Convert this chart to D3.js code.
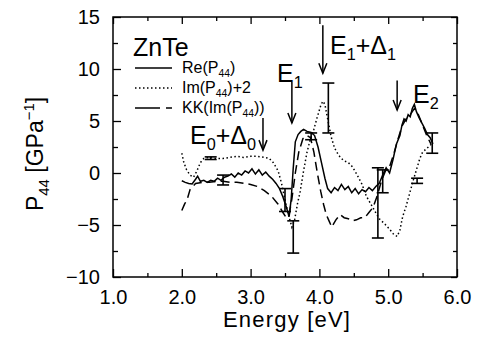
<!DOCTYPE html>
<html>
<head>
<meta charset="utf-8">
<script src="https://cdn.jsdelivr.net/npm/d3@7"></script>
<style>
  body { margin: 0; background: #fff; }
  svg { display: block; font-family: "Liberation Sans", Arial, sans-serif; }
  .axis text { font-size: 20px; fill: #000; }
  .axis line { stroke: #000; stroke-width: 1.3; }
  .axis path { display: none; }
</style>
</head>
<body>
<div id="chart"></div>
<script>
// Re(P44)
var reX = [2.00, 2.05, 2.10, 2.15, 2.20, 2.23, 2.27, 2.32, 2.37, 2.42, 2.47, 2.52, 2.57, 2.62, 2.67, 2.72, 2.77, 2.82, 2.87, 2.92, 2.97, 3.02, 3.07, 3.12, 3.17, 3.22, 3.27, 3.32, 3.37, 3.42, 3.47, 3.52, 3.56, 3.59, 3.62, 3.65, 3.69, 3.73, 3.77, 3.82, 3.88, 3.93, 3.98, 4.03, 4.08, 4.12, 4.17, 4.22, 4.27, 4.32, 4.37, 4.42, 4.47, 4.52, 4.57, 4.62, 4.67, 4.72, 4.77, 4.82, 4.87, 4.92, 4.97, 5.02, 5.07, 5.12, 5.17, 5.20, 5.23, 5.26, 5.29, 5.32, 5.35, 5.38, 5.41, 5.45, 5.49, 5.53, 5.57, 5.61, 5.65];
var reY = [-0.75, -0.9, -1.0, -1.05, -0.6, -0.3, -0.8, -0.7, -0.9, -0.7, -0.8, -0.5, -0.7, -0.4, -0.3, -0.1, -0.4, 0.0, -0.2, 0.2, 0.0, 0.4, -0.1, 0.3, -0.2, 0.1, -0.3, -0.6, -1.0, -1.5, -2.3, -3.3, -4.2, -2.5, 0.5, 3.0, 3.7, 4.0, 4.2, 4.0, 3.9, 3.6, 2.5, 1.0, -0.5, -1.5, -1.9, -1.4, -1.7, -1.1, -1.6, -1.3, -1.9, -1.5, -2.0, -1.6, -1.8, -1.4, -1.7, -1.3, -1.0, -0.2, 0.5, 0.0, 1.3, 2.8, 3.6, 4.6, 5.2, 5.0, 5.6, 5.4, 6.2, 6.6, 5.9, 5.3, 4.8, 4.3, 3.7, 3.4, 2.8];

// Im(P44)+2
var imX = [2.00, 2.03, 2.07, 2.12, 2.17, 2.22, 2.27, 2.32, 2.40, 2.50, 2.60, 2.70, 2.80, 2.90, 3.00, 3.10, 3.20, 3.27, 3.33, 3.40, 3.45, 3.50, 3.55, 3.60, 3.64, 3.68, 3.72, 3.77, 3.82, 3.87, 3.92, 3.97, 4.02, 4.05, 4.08, 4.12, 4.17, 4.22, 4.28, 4.35, 4.42, 4.48, 4.55, 4.62, 4.68, 4.74, 4.80, 4.87, 4.95, 5.02, 5.08, 5.13, 5.17, 5.21, 5.26, 5.31, 5.36, 5.41, 5.46, 5.50, 5.55, 5.60, 5.65];
var imY = [1.9, 1.0, 0.3, -0.2, -0.4, 0.2, 1.0, 1.4, 1.5, 1.4, 1.4, 1.5, 1.6, 1.5, 1.6, 1.6, 1.5, 1.4, 1.0, 0.2, -1.0, -2.6, -4.0, -5.2, -4.5, -3.0, -1.8, 0.2, 2.0, 3.3, 4.2, 5.4, 6.5, 6.9, 6.6, 5.2, 3.5, 2.4, 1.7, 1.2, 1.0, 0.6, -0.2, -1.1, -2.2, -2.9, -3.6, -4.4, -4.9, -5.4, -5.9, -6.1, -5.5, -4.2, -3.2, -2.0, -0.8, 0.3, 1.4, 2.0, 2.3, 2.6, 2.9];

// KK(Im(P44))
var kkX = [2.00, 2.04, 2.08, 2.12, 2.20, 2.30, 2.40, 2.50, 2.60, 2.70, 2.80, 2.90, 3.00, 3.10, 3.20, 3.30, 3.40, 3.47, 3.52, 3.56, 3.60, 3.65, 3.70, 3.76, 3.82, 3.87, 3.92, 3.97, 4.02, 4.06, 4.10, 4.14, 4.18, 4.24, 4.30, 4.36, 4.42, 4.48, 4.54, 4.60, 4.66, 4.72, 4.78, 4.84, 4.90, 4.96, 5.02, 5.08, 5.14, 5.20, 5.26, 5.32, 5.38, 5.44, 5.50, 5.56, 5.62];
var kkY = [-3.6, -3.0, -2.5, -1.6, -1.0, -0.9, -0.9, -0.8, -0.8, -0.9, -0.9, -1.0, -1.1, -1.3, -1.7, -2.2, -3.0, -3.8, -4.3, -4.0, -2.5, 0.0, 2.0, 3.3, 3.6, 3.4, 2.0, 0.0, -1.8, -3.0, -4.0, -4.6, -5.2, -4.5, -4.0, -4.3, -4.4, -4.6, -4.5, -4.3, -4.3, -3.8, -3.3, -2.2, -0.8, 0.2, 0.6, 1.8, 3.2, 4.5, 5.2, 5.6, 6.2, 5.6, 4.6, 3.6, 2.8];

// error bars
var errX = [2.42, 2.60, 3.50, 3.62, 3.88, 4.13, 4.85, 4.92, 5.42, 5.64];
var errLo = [1.3, -1.15, -3.7, -7.7, 3.2, 3.85, -6.25, -1.9, -1.0, 1.9];
var errHi = [1.55, -0.2, -1.5, -4.6, 3.85, 8.65, 0.5, 0.3, -0.5, 3.85];

// transition arrows
var arrowX = [3.18, 3.60, 4.05, 5.13];
var arrowTop = [5.3, 8.75, 14.2, 8.9];
var arrowBottom = [2.2, 4.8, 9.6, 6.05];

var xTickValues = [1, 2, 3, 4, 5, 6];
var xMinorTicks = [1.5, 2.5, 3.5, 4.5, 5.5];
var yTickValues = [-10, -5, 0, 5, 10, 15];
var yMinorTicks = [-7.5, -2.5, 2.5, 7.5, 12.5];

var width = 478, height = 337;
var margin = { top: 17, right: 21, bottom: 60, left: 113 };

var x = d3.scaleLinear().domain([1, 6]).range([margin.left, width - margin.right]);
var y = d3.scaleLinear().domain([-10, 15]).range([height - margin.bottom, margin.top]);

var svg = d3
  .select("#chart")
  .append("svg")
  .attr("width", width)
  .attr("height", height);

// ticks, all pointing inwards
function tickAxis(axis, scale, values, size, labels) {
  var a = axis(scale).tickValues(values).tickSizeInner(-size).tickSizeOuter(0).tickPadding(13);
  if (labels) a.tickFormat(labels);
  else a.tickFormat("");
  return a;
}

var yFormat = function (d) { return d < 0 ? "\u2212" + Math.abs(d) : d; };

svg.append("g").attr("class", "axis").attr("transform", "translate(0," + y(-10) + ")")
  .call(tickAxis(d3.axisBottom, x, xTickValues, 8, d3.format(".1f")));
svg.append("g").attr("class", "axis").attr("transform", "translate(0," + y(-10) + ")")
  .call(tickAxis(d3.axisBottom, x, xMinorTicks, 4));
svg.append("g").attr("class", "axis").attr("transform", "translate(0," + y(15) + ")")
  .call(tickAxis(d3.axisTop, x, xTickValues, 7));
svg.append("g").attr("class", "axis").attr("transform", "translate(0," + y(15) + ")")
  .call(tickAxis(d3.axisTop, x, xMinorTicks, 4));

svg.append("g").attr("class", "axis").attr("transform", "translate(" + x(1) + ",0)")
  .call(tickAxis(d3.axisLeft, y, yTickValues, 8, yFormat));
svg.append("g").attr("class", "axis").attr("transform", "translate(" + x(1) + ",0)")
  .call(tickAxis(d3.axisLeft, y, yMinorTicks, 5));
svg.append("g").attr("class", "axis").attr("transform", "translate(" + x(6) + ",0)")
  .call(tickAxis(d3.axisRight, y, yTickValues, 6));
svg.append("g").attr("class", "axis").attr("transform", "translate(" + x(6) + ",0)")
  .call(tickAxis(d3.axisRight, y, yMinorTicks, 4));

svg.append("rect")
  .attr("x", x(1)).attr("y", y(15))
  .attr("width", x(6) - x(1)).attr("height", y(-10) - y(15))
  .attr("fill", "none").attr("stroke", "#000").attr("stroke-width", 1.5);

// rich text with sub/superscripts: parts = [[text, shift]]
function richText(g, px, py, size, parts) {
  var t = g.append("text").attr("x", px).attr("y", py).attr("font-size", size).attr("fill", "#000");
  var prev = 0;
  parts.forEach(function (p) {
    var shift = p[1] || 0;
    t.append("tspan")
      .attr("dy", shift - prev)
      .attr("font-size", shift ? size * 0.65 : size)
      .text(p[0]);
    prev = shift;
  });
  return t;
}

// axis titles
richText(svg, 287, 327, 22, [["Energy [eV]"]])
  .attr("text-anchor", "middle").attr("letter-spacing", 1.2);
var yl = svg.append("g").attr("transform", "translate(43,154) rotate(-90)");
richText(yl, 0, 0, 23, [["P"], ["44", 6], [" [GPa"], ["\u22121", -9], ["]"]])
  .attr("text-anchor", "middle");

// curves
var line = d3.line().x(function (d) { return x(d[0]); }).y(function (d) { return y(d[1]); });

var series = [
  { xs: reX, ys: reY, dash: null },
  { xs: imX, ys: imY, dash: "1.5,2.5" },
  { xs: kkX, ys: kkY, dash: "9,5" }
];

series.forEach(function (s) {
  svg.append("path")
    .datum(s.xs.map(function (v, i) { return [v, s.ys[i]]; }))
    .attr("d", line)
    .attr("fill", "none")
    .attr("stroke", "#000")
    .attr("stroke-width", 1.5)
    .attr("stroke-dasharray", s.dash);
});

// error bars
var cap = 6;
var eb = svg.append("g").attr("stroke", "#000").attr("stroke-width", 1.6);
errX.forEach(function (v, i) {
  eb.append("line").attr("x1", x(v)).attr("x2", x(v)).attr("y1", y(errLo[i])).attr("y2", y(errHi[i]));
  [errLo[i], errHi[i]].forEach(function (e) {
    eb.append("line").attr("x1", x(v) - cap).attr("x2", x(v) + cap).attr("y1", y(e)).attr("y2", y(e));
  });
});

// arrows
var ar = svg.append("g").attr("stroke", "#000").attr("stroke-width", 1.5).attr("fill", "none");
arrowX.forEach(function (v, i) {
  var ax = x(v), top = y(arrowTop[i]), bot = y(arrowBottom[i]);
  ar.append("line").attr("x1", ax).attr("x2", ax).attr("y1", top).attr("y2", bot);
  ar.append("path").attr("d", "M" + (ax - 4) + "," + (bot - 10) + "L" + ax + "," + bot + "L" + (ax + 4) + "," + (bot - 10));
});

// transition labels
var labels = svg.append("g");
richText(labels, 190, 144, 25, [["E"], ["0", 6], ["+\u0394"], ["0", 6]]);
richText(labels, 277, 82, 25, [["E"], ["1", 6]]);
richText(labels, 330, 54, 25, [["E"], ["1", 6], ["+\u0394"], ["1", 6]]);
richText(labels, 413, 103, 25, [["E"], ["2", 6]]);

// legend
var lg = svg.append("g");
richText(lg, 133, 56, 25, [["ZnTe"]]);
var legendText = [
  [["Re(P"], ["44", 4], [")"]],
  [["Im(P"], ["44", 4], [")+2"]],
  [["KK(Im(P"], ["44", 4], ["))"]]
];
var legendDash = [null, "1.5,2.5", "25,6,7,100"];
var legendY = [68, 88, 108];
legendText.forEach(function (parts, i) {
  lg.append("line")
    .attr("x1", 135).attr("x2", 172)
    .attr("y1", legendY[i]).attr("y2", legendY[i])
    .attr("stroke", "#000").attr("stroke-width", 1.5)
    .attr("stroke-dasharray", legendDash[i]);
  richText(lg, 182, legendY[i] + 5, 16, parts);
});
</script>
</body>
</html>
